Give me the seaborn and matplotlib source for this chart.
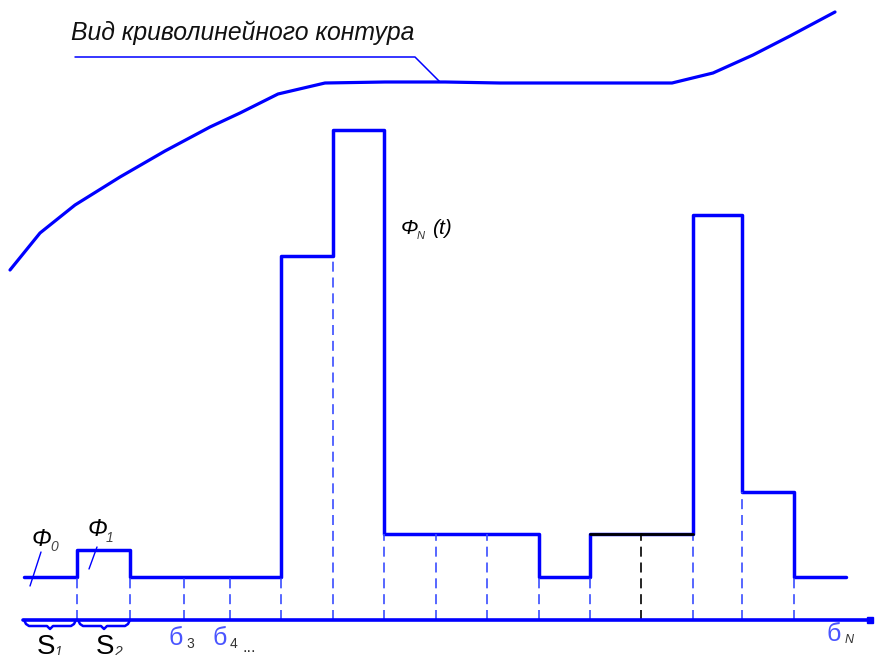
import matplotlib
matplotlib.use("Agg")
import matplotlib.pyplot as plt
import seaborn as sns
import pandas as pd
import numpy as np

sns.set_theme(style="white")
plt.rcParams['font.family'] = ['Liberation Sans', 'DejaVu Sans']

# ---- data (pixel-like units, height above baseline) ----
edges = [24, 77, 130, 184, 230, 281, 333, 384, 436, 487, 539, 590, 641, 693, 742, 794, 846]
heights = [43, 70, 43, 43, 43, 364, 490, 86, 86, 86, 43, 86, 86, 405, 128, 43]
black_segments = [11, 12]          # segments drawn with black top
black_dash_edges = [641]
curve_x = [10, 40, 75, 120, 165, 210, 240, 278, 325, 385, 445, 500, 560, 672, 713, 753, 790, 835]
curve_h = [350, 387, 415, 443, 469, 493, 507, 526, 537, 538, 538, 537, 537, 537, 547, 565, 584, 608]
title_text = "Вид криволинейного контура"

BLUE = "#0000ff"
DBLUE = "#3a4dff"

fig = plt.figure(figsize=(8.75, 6.55), dpi=100)
ax = fig.add_axes([0, 0, 1, 1])
ax.set_xlim(0, 875)
ax.set_ylim(-35, 620)
ax.axis("off")

# curve
sns.lineplot(x=curve_x, y=curve_h, ax=ax, color=BLUE, lw=2.3, sort=False, estimator=None)

# step function
sx = edges
sy = heights + [heights[-1]]
step_df = pd.DataFrame({"x": sx, "y": sy})
sns.lineplot(data=step_df, x="x", y="y", ax=ax, color=BLUE, lw=2.5,
             drawstyle="steps-post", sort=False, estimator=None)
for i in black_segments:
    ax.plot([edges[i], edges[i + 1]], [heights[i], heights[i]], color="black", lw=2.0, zorder=4)

# dashed dividers
for j in range(1, len(edges) - 1):
    top = min(heights[j - 1], heights[j])
    col = "black" if edges[j] in black_dash_edges else DBLUE
    ax.plot([edges[j], edges[j]], [0, top], color=col, lw=1.2, ls=(0, (6, 3.5)), zorder=2)

# baseline
ax.plot([23, 872], [0, 0], color=BLUE, lw=2.6, zorder=3)
ax.plot([870], [0], marker="s", ms=5, color=BLUE, zorder=3)

# leader line for curve label
ax.plot([75, 415, 440], [563, 563, 538], color=BLUE, lw=1.1)
ax.text(71, 587, title_text, fontsize=17.8, style="italic", color="#111111",
        va="center", ha="left")

# Phi_N(t)
ax.text(401, 392, "Φ", fontsize=15, style="italic", color="black", va="center")
ax.text(417, 384, "N", fontsize=8, style="italic", color="#333333", va="center")
ax.text(432, 392, "(t)", fontsize=15, style="italic", color="black", va="center")

# Phi_0, Phi_1 labels with leaders
ax.plot([30, 41], [34, 68], color=BLUE, lw=1.0)
ax.plot([89, 97], [51, 73], color=BLUE, lw=1.0)
ax.text(32, 81, "Φ", fontsize=17, style="italic", color="black", va="center")
ax.text(50, 73, "0", fontsize=10, style="italic", color="#444444", va="center")
ax.text(88, 90, "Φ", fontsize=17, style="italic", color="black", va="center")
ax.text(106, 82, "1", fontsize=10, style="italic", color="#444444", va="center")

# braces under S1, S2
def brace(x0, x1):
    xm = (x0 + x1) / 2
    bx = [x0, x0 + 2, x0 + 5, xm - 3, xm, xm + 3, x1 - 5, x1 - 2, x1]
    by = [0, -4, -6, -6, -9, -6, -6, -4, 0]
    ax.plot(bx, by, color=BLUE, lw=1.8)

brace(24, 76)
brace(78, 130)
ax.text(37, -27, "S", fontsize=20, color="black", va="center", ha="left")
ax.text(55, -32, "1", fontsize=10, style="italic", color="#333333", va="center")
ax.text(96, -27, "S", fontsize=20, color="black", va="center", ha="left")
ax.text(114, -32, "2", fontsize=10, style="italic", color="#333333", va="center")

# sigma-like labels
LB = "#4a55ff"
ax.text(169, -18, "б", fontsize=18, color=LB, va="center")
ax.text(186, -24, "3", fontsize=10, color="#333333", va="center")
ax.text(213, -18, "б", fontsize=18, color=LB, va="center")
ax.text(230, -24, "4", fontsize=10, color="#333333", va="center")
ax.text(242, -27, "...", fontsize=12, color="#333333", va="center")
ax.text(827, -14, "б", fontsize=18, color=LB, va="center")
ax.text(845, -20, "N", fontsize=9, style="italic", color="#333333", va="center")

fig.savefig("out.png", dpi=100)
